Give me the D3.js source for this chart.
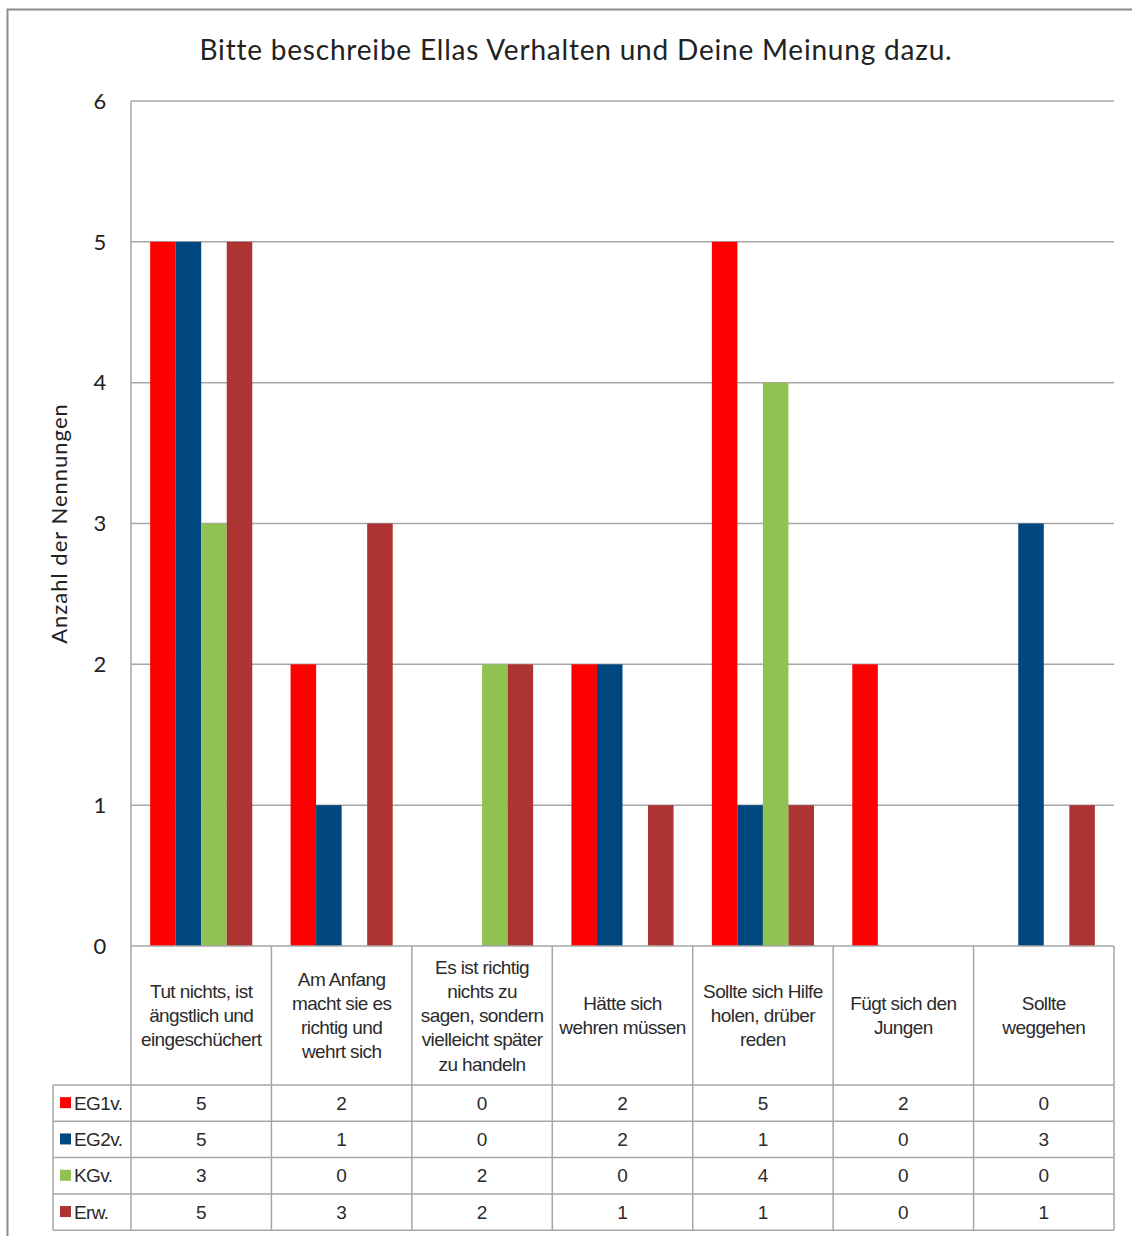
<!DOCTYPE html>
<html>
<head>
<meta charset="utf-8">
<script src="https://cdn.jsdelivr.net/npm/d3@7"></script>
<style>
  body { margin: 0; background: #fff; }
  svg { display: block; }
</style>
</head>
<body>
<svg id="chart"></svg>
<script>
// categories (row labels broken into lines as in the table)
const categories = [
  ["Tut nichts, ist", "ängstlich und", "eingeschüchert"],
  ["Am Anfang", "macht sie es", "richtig und", "wehrt sich"],
  ["Es ist richtig", "nichts zu", "sagen, sondern", "vielleicht später", "zu handeln"],
  ["Hätte sich", "wehren müssen"],
  ["Sollte sich Hilfe", "holen, drüber", "reden"],
  ["Fügt sich den", "Jungen"],
  ["Sollte", "weggehen"]
];
const seriesNames = ["EG1v.", "EG2v.", "KGv.", "Erw."];
const seriesColors = ["#ff0000", "#00467f", "#8fc251", "#ae3333"];
const eg1 = [5, 2, 0, 2, 5, 2, 0];
const eg2 = [5, 1, 0, 2, 1, 0, 3];
const kg  = [3, 0, 2, 0, 4, 0, 0];
const erw = [5, 3, 2, 1, 1, 0, 1];
const yTicks = [0, 1, 2, 3, 4, 5, 6];

const title = "Bitte beschreibe Ellas Verhalten und Deine Meinung dazu.";
const yTitle = "Anzahl der Nennungen";

const seriesValues = [eg1, eg2, kg, erw];

//Config sizes
const width = 1132, height = 1236;
const plot = {left: 131, right: 1114, top: 101, bottom: 946};
const headerBottom = 1085;
const rowH = 36.3;
const legendLeft = 53;
const gridColor = "#a6a6a6";

const svg = d3.select("#chart").attr("width", width).attr("height", height);

// outer frame
svg.append("path")
  .attr("d", `M7.5,${height} V9.5 H${width}`)
  .attr("fill", "none")
  .attr("stroke", "#8c8c8c")
  .attr("stroke-width", 2);

// title
svg.append("text")
  .attr("x", 576).attr("y", 60)
  .attr("text-anchor", "middle")
  .attr("font-family", "Lato, 'Open Sans', sans-serif")
  .attr("font-size", 28)
  .attr("letter-spacing", 0.8)
  .attr("fill", "#222")
  .text(title);

//scales
const idx = d3.range(categories.length);
const x0 = d3.scaleBand().domain(idx).range([plot.left, plot.right]);
const bw = x0.bandwidth();
const barW = bw / 5.5;
const x1 = d3.scaleBand().domain(d3.range(seriesNames.length))
  .range([barW * 0.75, bw - barW * 0.75]);
const y = d3.scaleLinear().domain([0, 6]).range([plot.bottom, plot.top]);

// gridlines
svg.append("g")
  .selectAll("line")
  .data(yTicks.filter(d => d > 0))
  .join("line")
  .attr("x1", plot.left).attr("x2", plot.right)
  .attr("y1", d => y(d)).attr("y2", d => y(d))
  .attr("stroke", gridColor).attr("stroke-width", 1.5);

// y axis labels
svg.append("g")
  .selectAll("text")
  .data(yTicks)
  .join("text")
  .attr("x", 100).attr("y", d => y(d))
  .attr("dy", "0.35em")
  .attr("text-anchor", "middle")
  .attr("font-family", "Lato, 'Open Sans', sans-serif")
  .attr("font-size", 22)
  .attr("fill", "#222")
  .text(d => d);

svg.append("text")
  .attr("transform", `translate(67,${(plot.top + plot.bottom) / 2}) rotate(-90)`)
  .attr("text-anchor", "middle")
  .attr("font-family", "Lato, 'Open Sans', sans-serif")
  .attr("font-size", 22)
  .attr("letter-spacing", 1)
  .attr("fill", "#222")
  .text(yTitle);

// bars
const groups = svg.append("g")
  .selectAll("g")
  .data(idx)
  .join("g")
  .attr("transform", i => `translate(${x0(i)},0)`);

groups.selectAll("rect")
  .data(i => seriesValues.map((s, k) => ({k, v: s[i]})))
  .join("rect")
  .attr("x", d => x1(d.k))
  .attr("y", d => y(d.v))
  .attr("width", x1.bandwidth())
  .attr("height", d => y(0) - y(d.v))
  .attr("fill", d => seriesColors[d.k]);

// table
const tableBottom = headerBottom + rowH * seriesNames.length;
const table = svg.append("g")
  .attr("stroke", gridColor).attr("stroke-width", 1.5);

// plot left axis line and vertical table lines
table.append("line")
  .attr("x1", plot.left).attr("x2", plot.left)
  .attr("y1", plot.top).attr("y2", tableBottom);
table.selectAll(".vline")
  .data(idx.map(i => x0(i) + bw))
  .join("line")
  .attr("x1", d => d).attr("x2", d => d)
  .attr("y1", plot.bottom).attr("y2", tableBottom);
table.append("line")
  .attr("x1", legendLeft).attr("x2", legendLeft)
  .attr("y1", headerBottom).attr("y2", tableBottom);
// horizontal table lines
table.append("line")
  .attr("x1", plot.left).attr("x2", plot.right)
  .attr("y1", plot.bottom).attr("y2", plot.bottom);
table.selectAll(".hline")
  .data(d3.range(seriesNames.length + 1).map(r => headerBottom + r * rowH))
  .join("line")
  .attr("x1", legendLeft).attr("x2", plot.right)
  .attr("y1", d => d).attr("y2", d => d);

// header labels
const tableFont = "'Liberation Sans', Arial, sans-serif";
const headerMid = (plot.bottom + headerBottom) / 2;
const lineH = 24.2;
svg.append("g")
  .selectAll("text")
  .data(categories)
  .join("text")
  .attr("x", (d, i) => x0(i) + bw / 2)
  .attr("text-anchor", "middle")
  .attr("font-family", tableFont)
  .attr("font-size", 19)
  .attr("letter-spacing", -0.6)
  .attr("fill", "#2b2b2b")
  .each(function(lines) {
    const t = d3.select(this);
    const y0 = headerMid - (lines.length - 1) * lineH / 2;
    lines.forEach((l, j) => {
      t.append("tspan")
        .attr("x", t.attr("x"))
        .attr("y", y0 + j * lineH)
        .attr("dy", "0.35em")
        .text(l);
    });
  });

// data rows
const rows = svg.append("g")
  .selectAll("g")
  .data(seriesNames)
  .join("g")
  .attr("transform", (d, k) => `translate(0,${headerBottom + k * rowH + rowH / 2})`);

rows.append("rect")
  .attr("x", 60).attr("y", -6)
  .attr("width", 11).attr("height", 11)
  .attr("fill", (d, k) => seriesColors[k]);

rows.append("text")
  .attr("x", 74).attr("dy", "0.35em")
  .attr("font-family", tableFont)
  .attr("font-size", 19)
  .attr("letter-spacing", -0.6)
  .attr("fill", "#2b2b2b")
  .text(d => d);

rows.each(function(d, k) {
  d3.select(this).selectAll(".val")
    .data(seriesValues[k])
    .join("text")
    .attr("x", (v, i) => x0(i) + bw / 2)
    .attr("dy", "0.35em")
    .attr("text-anchor", "middle")
    .attr("font-family", tableFont)
    .attr("font-size", 19)
    .attr("fill", "#2b2b2b")
    .text(v => v);
});
</script>
</body>
</html>
